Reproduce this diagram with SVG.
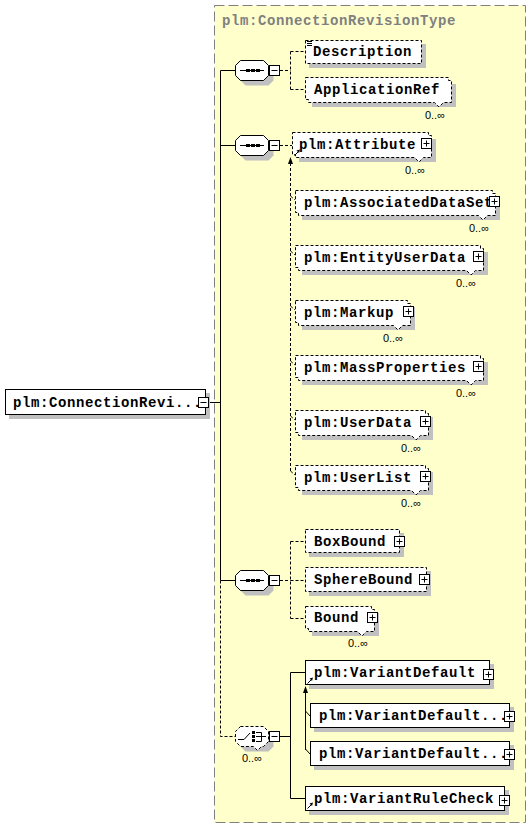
<svg xmlns="http://www.w3.org/2000/svg" width="530" height="829" viewBox="0 0 530 829">
<defs>
<style>
.t{font-family:"Liberation Mono",monospace;font-weight:bold;font-size:14px;letter-spacing:0.6px;fill:#000}
.title{font-family:"Liberation Mono",monospace;font-weight:bold;font-size:14px;letter-spacing:0.6px;fill:#808080}
.occ{font-family:"Liberation Sans",Arial,sans-serif;font-size:11px;fill:#000;text-anchor:end}
.box{fill:#fff;stroke:#000;stroke-width:1}
.opt{stroke-dasharray:3,2}
.sh{fill:#c0c0c0;stroke:none}
.ln{stroke:#000;stroke-width:1;fill:none}
.dl{stroke-dasharray:3,2}
</style>
<g id="plus"><rect x="0.5" y="0.5" width="10" height="10" fill="#fff" stroke="#000"/><path d="M2.5 5.5H8.5M5.5 2.5V8.5" stroke="#000" fill="none"/></g>
<g id="minus"><rect x="0.5" y="0.5" width="10" height="10" fill="#fff" stroke="#000"/><path d="M2.5 5.5H8.5" stroke="#000" fill="none"/></g>
<g id="ref"><path d="M0.5 6.5L4 3" stroke="#000" fill="none"/><path d="M2.5 1.5L6 0.5L5 4Z" fill="#000"/></g>
<g id="seqicon"><path d="M240 0H264" stroke="#000"/><rect x="246" y="-1.5" width="4" height="3" fill="#000"/><rect x="251" y="-1.5" width="4" height="3" fill="#000"/><rect x="256" y="-1.5" width="4" height="3" fill="#000"/></g>
<path id="oct" d="M240.5,-10H263.5L268.5,-5V5L263.5,10H240.5L235.5,5V-5Z"/>
</defs>
<rect x="0" y="0" width="530" height="829" fill="#fff"/>
<g id="complexType">
<rect x="214.5" y="5.5" width="311" height="817" fill="#ffffcc" stroke="#808080" stroke-dasharray="10,4"/>
<text class="title" x="222" y="25">plm:ConnectionRevisionType</text>
</g>

<g id="connectors">
<path class="ln" d="M209 402.5H220.5M220.5 70.5V580.5M220.5 70.5H236M220.5 145.5H236M220.5 580.5H236"/>
<path class="ln dl" d="M220.5 580.5V736.5H236"/>
<path class="ln dl" d="M280 70.5H290.5M290.5 51.5V89.5M290.5 51.5H305M290.5 89.5H305"/>
<path class="ln dl" d="M280 145.5H292"/>
<path class="ln dl" d="M290.5 163V471M290.5 196L295 200M290.5 251L295 255M290.5 306L295 310M290.5 361L295 365M290.5 416L295 420M290.5 471L295 475"/>
<path d="M290.5 157L288 164H293Z" fill="#000"/>
<path class="ln dl" d="M280 580.5H290.5M290.5 541.5V618.5M290.5 541.5H305M290.5 580.5H305M290.5 618.5H305"/>
<path class="ln" d="M280 736.5H290.5M290.5 672.5V798.5M290.5 672.5H305M290.5 798.5H305"/>
<path class="ln" d="M305.5 693V750M305.5 711L310 716M305.5 749L310 754"/>
<path d="M305.5 686L303 693H308Z" fill="#000"/>
</g>

<g id="root">
<rect class="sh" x="9" y="393" width="201" height="26"/>
<rect class="box" x="5.5" y="389.5" width="200" height="25"/>
<text class="t" x="13" y="407">plm:ConnectionRevi...</text>
<use href="#minus" x="198" y="397"/>
</g>

<g id="sequence1">
<use href="#oct" transform="translate(5,75.5)" class="sh"/>
<use href="#oct" transform="translate(0,70.5)" fill="#fff" stroke="#000"/>
<use href="#seqicon" transform="translate(0,70.5)"/>
<use href="#minus" x="269" y="65"/>
</g>

<g id="Description">
<rect class="sh" x="309" y="44" width="117" height="24"/>
<rect class="box opt" x="305.5" y="40.5" width="116" height="23"/>
<path class="ln" d="M307 41.5H312M307 43.5H312M307 45.5H312"/>
<text class="t" x="313" y="56">Description</text>
</g>

<g id="ApplicationRef">
<rect class="sh" x="312" y="84" width="144" height="23"/>
<path class="box opt" d="M305.5 77.5H448.5V80.5H451.5V102.5H443.5L439 107L434.5 102.5H308.5V99.5H305.5Z"/>
<text class="t" x="314" y="93.5">ApplicationRef</text>
<text class="occ" x="445" y="118.5">0..∞</text>
</g>

<g id="sequence2">
<use href="#oct" transform="translate(5,150.5)" class="sh"/>
<use href="#oct" transform="translate(0,145.5)" fill="#fff" stroke="#000"/>
<use href="#seqicon" transform="translate(0,145.5)"/>
<use href="#minus" x="269" y="140"/>
</g>

<g id="Attribute">
<rect class="sh" x="299" y="139" width="137" height="23"/>
<path class="box opt" d="M292.5 132.5H428.5V135.5H431.5V157.5H423.5L419 162L414.5 157.5H295.5V154.5H292.5Z"/>
<text class="t" x="299" y="148.5">plm:Attribute</text>
<use href="#ref" x="294" y="149"/>
<use href="#plus" x="421" y="138"/>
<text class="occ" x="425" y="174">0..∞</text>
</g>

<g id="AssociatedDataSet">
<rect class="sh" x="302" y="197" width="198" height="23"/>
<path class="box opt" d="M295.5 190.5H492.5V193.5H495.5V215.5H487.5L483 220L478.5 215.5H298.5V212.5H295.5Z"/>
<text class="t" x="304" y="206.5">plm:AssociatedDataSet</text>
<use href="#plus" x="489" y="196"/>
<text class="occ" x="489" y="231.5">0..∞</text>
</g>

<g id="EntityUserData">
<rect class="sh" x="302" y="252" width="186" height="23"/>
<path class="box opt" d="M295.5 245.5H480.5V248.5H483.5V270.5H475.5L471 275L466.5 270.5H298.5V267.5H295.5Z"/>
<text class="t" x="304" y="261.5">plm:EntityUserData</text>
<use href="#plus" x="473" y="251"/>
<text class="occ" x="476" y="286.5">0..∞</text>
</g>

<g id="Markup">
<rect class="sh" x="302" y="307" width="113" height="23"/>
<path class="box opt" d="M295.5 300.5H407.5V303.5H410.5V325.5H402.5L398 330L393.5 325.5H298.5V322.5H295.5Z"/>
<text class="t" x="304" y="316.5">plm:Markup</text>
<use href="#plus" x="403" y="306"/>
<text class="occ" x="403" y="341.5">0..∞</text>
</g>

<g id="MassProperties">
<rect class="sh" x="302" y="362" width="186" height="23"/>
<path class="box opt" d="M295.5 355.5H480.5V358.5H483.5V380.5H475.5L471 385L466.5 380.5H298.5V377.5H295.5Z"/>
<text class="t" x="304" y="371.5">plm:MassProperties</text>
<use href="#plus" x="473" y="361"/>
<text class="occ" x="476" y="396.5">0..∞</text>
</g>

<g id="UserData">
<rect class="sh" x="302" y="417" width="131" height="23"/>
<path class="box opt" d="M295.5 410.5H425.5V413.5H428.5V435.5H420.5L416 440L411.5 435.5H298.5V432.5H295.5Z"/>
<text class="t" x="304" y="426.5">plm:UserData</text>
<use href="#plus" x="420" y="416"/>
<text class="occ" x="421" y="451.5">0..∞</text>
</g>

<g id="UserList">
<rect class="sh" x="302" y="472" width="131" height="23"/>
<path class="box opt" d="M295.5 465.5H425.5V468.5H428.5V490.5H420.5L416 495L411.5 490.5H298.5V487.5H295.5Z"/>
<text class="t" x="304" y="481.5">plm:UserList</text>
<use href="#plus" x="420" y="471"/>
<text class="occ" x="421" y="506.5">0..∞</text>
</g>

<g id="sequence3">
<use href="#oct" transform="translate(5,585.5)" class="sh"/>
<use href="#oct" transform="translate(0,580.5)" fill="#fff" stroke="#000"/>
<use href="#seqicon" transform="translate(0,580.5)"/>
<use href="#minus" x="269" y="575"/>
</g>

<g id="BoxBound">
<rect class="sh" x="309" y="533" width="95" height="24"/>
<rect class="box opt" x="305.5" y="529.5" width="94" height="23"/>
<text class="t" x="314" y="545.5">BoxBound</text>
<use href="#plus" x="394" y="536"/>
</g>

<g id="SphereBound">
<rect class="sh" x="309" y="571" width="122" height="25"/>
<rect class="box opt" x="305.5" y="567.5" width="121" height="24"/>
<text class="t" x="314" y="583.5">SphereBound</text>
<use href="#plus" x="419" y="574"/>
</g>

<g id="Bound">
<rect class="sh" x="312" y="613" width="67" height="23"/>
<path class="box opt" d="M305.5 606.5H371.5V609.5H374.5V631.5H366.5L362 636L357.5 631.5H308.5V628.5H305.5Z"/>
<text class="t" x="314" y="621.5">Bound</text>
<use href="#plus" x="367" y="612"/>
<text class="occ" x="368" y="647">0..∞</text>
</g>

<g id="choice">
<use href="#oct" transform="translate(5,741.5)" class="sh"/>
<path fill="#fff" stroke="#000" stroke-dasharray="3,2" d="M240.5,726.5H263.5L268.5,731.5V741.5L263.5,746.5H261.5L257.5,750.5L253.5,746.5H240.5L235.5,741.5V731.5Z"/>
<path class="ln" d="M238 739.5H244L250 733M256 732.5H261.5V741.5H256M256 736.5H266"/>
<rect x="252" y="731" width="3" height="3" fill="#000"/>
<rect x="252" y="735" width="3" height="3" fill="#000"/>
<rect x="252" y="739" width="3" height="3" fill="#000"/>
<use href="#minus" x="269" y="731"/>
<text class="occ" x="262" y="762">0..∞</text>
</g>

<g id="VariantDefault">
<rect class="sh" x="309" y="664" width="185" height="25"/>
<rect class="box" x="305.5" y="660.5" width="184" height="24"/>
<text class="t" x="314" y="676.5">plm:VariantDefault</text>
<use href="#ref" x="307" y="677"/>
<use href="#plus" x="483" y="669"/>
</g>

<g id="VariantDefault2">
<rect class="sh" x="314" y="707" width="200" height="25"/>
<rect class="box" x="310.5" y="703.5" width="199" height="24"/>
<text class="t" x="319" y="719.5">plm:VariantDefault...</text>
<use href="#plus" x="504" y="711"/>
</g>

<g id="VariantDefault3">
<rect class="sh" x="314" y="745" width="200" height="25"/>
<rect class="box" x="310.5" y="741.5" width="199" height="24"/>
<text class="t" x="319" y="757.5">plm:VariantDefault...</text>
<use href="#plus" x="504" y="749"/>
</g>

<g id="VariantRuleCheck">
<rect class="sh" x="309" y="790" width="200" height="25"/>
<rect class="box" x="305.5" y="786.5" width="199" height="24"/>
<text class="t" x="314" y="802.5">plm:VariantRuleCheck</text>
<use href="#ref" x="307" y="802"/>
<use href="#plus" x="499" y="795"/>
</g>
</svg>
